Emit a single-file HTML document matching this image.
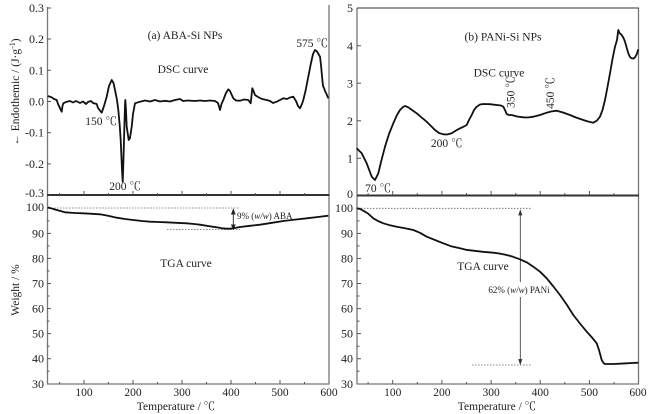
<!DOCTYPE html>
<html><head><meta charset="utf-8"><style>
html,body{margin:0;padding:0;background:#fff;}
svg{display:block;font-family:"Liberation Serif","Noto Serif CJK SC",serif;}
</style></head><body>
<svg width="656" height="414" viewBox="0 0 656 414" xmlns="http://www.w3.org/2000/svg">
<rect width="656" height="414" fill="#fff"/>

<!-- ===== LEFT PANEL ===== -->
<g fill="none" stroke="#777" stroke-width="1.3">
  <line x1="47.5" y1="7" x2="47.5" y2="384.5"/>
  <line x1="329" y1="5" x2="329" y2="384.5"/>
  <line x1="47" y1="384" x2="329.5" y2="384"/>
</g>
<line x1="47" y1="195" x2="329.5" y2="195" stroke="#333" stroke-width="2"/>
<!-- left y ticks DSC -->
<g stroke="#555" stroke-width="1">
  <line x1="47" y1="8" x2="51" y2="8"/>
  <line x1="47" y1="39" x2="51" y2="39"/>
  <line x1="47" y1="70.3" x2="51" y2="70.3"/>
  <line x1="47" y1="101.5" x2="51" y2="101.5"/>
  <line x1="47" y1="132.7" x2="51" y2="132.7"/>
  <line x1="47" y1="163.9" x2="51" y2="163.9"/>
  <!-- TGA -->
  <line x1="47" y1="208.3" x2="51" y2="208.3"/>
  <line x1="47" y1="233.4" x2="51" y2="233.4"/>
  <line x1="47" y1="258.4" x2="51" y2="258.4"/>
  <line x1="47" y1="283.5" x2="51" y2="283.5"/>
  <line x1="47" y1="308.6" x2="51" y2="308.6"/>
  <line x1="47" y1="333.6" x2="51" y2="333.6"/>
  <line x1="47" y1="358.7" x2="51" y2="358.7"/>
  <line x1="47" y1="220.9" x2="49.5" y2="220.9"/>
  <line x1="47" y1="245.9" x2="49.5" y2="245.9"/>
  <line x1="47" y1="271" x2="49.5" y2="271"/>
  <line x1="47" y1="296" x2="49.5" y2="296"/>
  <line x1="47" y1="321.1" x2="49.5" y2="321.1"/>
  <line x1="47" y1="346.2" x2="49.5" y2="346.2"/>
  <line x1="47" y1="371.2" x2="49.5" y2="371.2"/>
  <!-- x ticks bottom -->
  <line x1="84" y1="384" x2="84" y2="380"/>
  <line x1="133" y1="384" x2="133" y2="380"/>
  <line x1="182" y1="384" x2="182" y2="380"/>
  <line x1="231" y1="384" x2="231" y2="380"/>
  <line x1="280" y1="384" x2="280" y2="380"/>
  <line x1="59.5" y1="384" x2="59.5" y2="382"/>
  <line x1="108.5" y1="384" x2="108.5" y2="382"/>
  <line x1="157.5" y1="384" x2="157.5" y2="382"/>
  <line x1="206.5" y1="384" x2="206.5" y2="382"/>
  <line x1="255.5" y1="384" x2="255.5" y2="382"/>
  <line x1="304.5" y1="384" x2="304.5" y2="382"/>
  <!-- x ticks DSC bottom -->
  <line x1="84" y1="195" x2="84" y2="191"/>
  <line x1="133" y1="195" x2="133" y2="191"/>
  <line x1="182" y1="195" x2="182" y2="191"/>
  <line x1="231" y1="195" x2="231" y2="191"/>
  <line x1="280" y1="195" x2="280" y2="191"/>
  <line x1="59.5" y1="195" x2="59.5" y2="193"/>
  <line x1="108.5" y1="195" x2="108.5" y2="193"/>
  <line x1="157.5" y1="195" x2="157.5" y2="193"/>
  <line x1="206.5" y1="195" x2="206.5" y2="193"/>
  <line x1="255.5" y1="195" x2="255.5" y2="193"/>
  <line x1="304.5" y1="195" x2="304.5" y2="193"/>
</g>
<g font-size="12" fill="#222" text-anchor="end">
  <text x="44" y="12">0.3</text>
  <text x="44" y="43">0.2</text>
  <text x="44" y="74.5">0.1</text>
  <text x="44" y="105.5">0.0</text>
  <text x="44" y="136.5">-0.1</text>
  <text x="44" y="168">-0.2</text>
  <text x="44" y="197">-0.3</text>
  <text x="44" y="211">100</text>
  <text x="44" y="237.5">90</text>
  <text x="44" y="262.5">80</text>
  <text x="44" y="287.5">70</text>
  <text x="44" y="312.5">60</text>
  <text x="44" y="337.5">50</text>
  <text x="44" y="362.5">40</text>
  <text x="44" y="388">30</text>
</g>
<g font-size="11.5" fill="#222" text-anchor="middle">
  <text x="84" y="396">100</text>
  <text x="133" y="396">200</text>
  <text x="182" y="396">300</text>
  <text x="231" y="396">400</text>
  <text x="280" y="396">500</text>
  <text x="329" y="396">600</text>
  <text x="176" y="410">Temperature / ℃</text>
</g>
<text transform="translate(19,92) rotate(-90)" font-size="11.5" fill="#222" text-anchor="middle">← Endothemic / (J·g<tspan dy="-4" font-size="8">-1</tspan><tspan dy="4">)</tspan></text>
<text transform="translate(19,290) rotate(-90)" font-size="11.5" fill="#222" text-anchor="middle">Weight / %</text>

<g font-size="11.5" fill="#222" text-anchor="middle">
  <text x="185" y="39">(a) ABA-Si NPs</text>
  <text x="183" y="73">DSC curve</text>
  <text x="312" y="47">575 ℃</text>
  <text x="101" y="125">150 ℃</text>
  <text x="125" y="190">200 ℃</text>
  <text x="186" y="267">TGA curve</text>
</g>
<text x="237" y="219" font-size="9" fill="#222">9% (<tspan font-style="italic">w/w</tspan>) ABA</text>

<!-- dotted lines left -->
<g stroke="#666" stroke-width="0.8" stroke-dasharray="1.5,1.5">
  <line x1="48" y1="208" x2="240" y2="208"/>
  <line x1="167" y1="229.5" x2="240" y2="229.5"/>
</g>
<g stroke="#222" stroke-width="0.9" fill="#222">
  <line x1="233.3" y1="211" x2="233.3" y2="226.5"/>
  <path d="M231.6,214 L233.3,209.5 L235,214 Z"/>
  <path d="M231.6,225 L233.3,229 L235,225 Z"/>
</g>

<!-- DSC left curve -->
<polyline fill="none" stroke="#111" stroke-width="1.8" stroke-linejoin="round" points="
47.7,96 51.7,97.3 54,99 56.7,100 58,104 59.3,106.7 61.7,111.7 62.5,106 63.3,103.3 66.7,101.7 70,101 73,102.5 76,101 80,103 83,101.5 86,104 88,102 91,101 93,103 96.7,104 98,108 101.7,112.7 104,106 106.7,96.7 109,86 111.7,80 113.5,83 115,90 117,100 118.3,110 119.7,125 120.7,140 122,170 122.7,181.7 123.3,165 124,140 125,105 125.3,100 126,110 126.7,126.7 128.7,140 130,138 131.7,126.7 133,114 135,103.3 140,101.7 145,100.5 150,101.5 155,100 160,101.5 165,100.8 170,101.5 175,100 180,99 183,101 188,100.5 195,101 200,100.5 205,101 210,100.5 215,101 218,103 220,110 221.5,104 223.3,100 226,93 228.3,89.3 230,91 233.3,98.3 236,100.5 240,100.7 244,99.5 248.3,100 250.7,103.3 251.5,96 252.3,88.3 253.5,91 255,95 258,97 262,99 266.7,100 270,101 273,103 276.7,101.7 280,100 283.3,98.3 287,99 290,97.5 293.3,96.7 296,101 298,106 300,108.3 302,104 303.3,100 305.5,91 308.3,76.7 311,63 313,54 315,50 317,51.5 319,55 320,56.7 321,65 322,76 323,86 324,88 325,91 326.5,94 328.3,98.3
"/>

<!-- TGA left curve -->
<polyline fill="none" stroke="#111" stroke-width="1.8" stroke-linejoin="round" points="
47.7,207.3 55,209.5 65,212.3 75,213 83.3,213.3 92,213.8 100,214.3 108,215.8 116.7,217.7 125,219 133.3,220 142,221 150,221.7 158,222 166.7,222.3 176,222.8 186.7,223.3 194,224 200,224.7 208,226 216.7,227.3 222,228.3 226.7,228.7 230,228.7 233.3,228.3 236,227.8 240,227 250,225.8 260,224.7 272,222.8 283.3,221 295,219.6 306.7,218.3 318,217 328.3,215.7
"/>

<!-- ===== RIGHT PANEL ===== -->
<g fill="none" stroke="#777" stroke-width="1.3">
  <line x1="357" y1="8" x2="357" y2="384.5"/>
  <line x1="638.5" y1="8" x2="638.5" y2="384.5"/>
  <line x1="357" y1="384" x2="639" y2="384"/>
</g>
<line x1="357" y1="8" x2="639" y2="8" stroke="#333" stroke-width="1"/>
<line x1="357" y1="195.5" x2="639" y2="195.5" stroke="#333" stroke-width="2"/>
<g stroke="#555" stroke-width="1">
  <line x1="357" y1="45.8" x2="361" y2="45.8"/>
  <line x1="357" y1="83.2" x2="361" y2="83.2"/>
  <line x1="357" y1="120.8" x2="361" y2="120.8"/>
  <line x1="357" y1="158.3" x2="361" y2="158.3"/>
  <line x1="357" y1="208.3" x2="361" y2="208.3"/>
  <line x1="357" y1="233.4" x2="361" y2="233.4"/>
  <line x1="357" y1="258.4" x2="361" y2="258.4"/>
  <line x1="357" y1="283.5" x2="361" y2="283.5"/>
  <line x1="357" y1="308.6" x2="361" y2="308.6"/>
  <line x1="357" y1="333.6" x2="361" y2="333.6"/>
  <line x1="357" y1="358.7" x2="361" y2="358.7"/>
  <line x1="357" y1="220.9" x2="359.5" y2="220.9"/>
  <line x1="357" y1="245.9" x2="359.5" y2="245.9"/>
  <line x1="357" y1="271" x2="359.5" y2="271"/>
  <line x1="357" y1="296" x2="359.5" y2="296"/>
  <line x1="357" y1="321.1" x2="359.5" y2="321.1"/>
  <line x1="357" y1="346.2" x2="359.5" y2="346.2"/>
  <line x1="357" y1="371.2" x2="359.5" y2="371.2"/>
  <line x1="392.7" y1="384" x2="392.7" y2="380"/>
  <line x1="441.9" y1="384" x2="441.9" y2="380"/>
  <line x1="491.1" y1="384" x2="491.1" y2="380"/>
  <line x1="540.2" y1="384" x2="540.2" y2="380"/>
  <line x1="589.4" y1="384" x2="589.4" y2="380"/>
  <line x1="368.1" y1="384" x2="368.1" y2="382"/>
  <line x1="417.3" y1="384" x2="417.3" y2="382"/>
  <line x1="466.5" y1="384" x2="466.5" y2="382"/>
  <line x1="515.7" y1="384" x2="515.7" y2="382"/>
  <line x1="564.8" y1="384" x2="564.8" y2="382"/>
  <line x1="614" y1="384" x2="614" y2="382"/>
  <line x1="392.7" y1="195" x2="392.7" y2="191"/>
  <line x1="441.9" y1="195" x2="441.9" y2="191"/>
  <line x1="491.1" y1="195" x2="491.1" y2="191"/>
  <line x1="540.2" y1="195" x2="540.2" y2="191"/>
  <line x1="589.4" y1="195" x2="589.4" y2="191"/>
  <line x1="368.1" y1="195" x2="368.1" y2="193"/>
  <line x1="417.3" y1="195" x2="417.3" y2="193"/>
  <line x1="466.5" y1="195" x2="466.5" y2="193"/>
  <line x1="515.7" y1="195" x2="515.7" y2="193"/>
  <line x1="564.8" y1="195" x2="564.8" y2="193"/>
  <line x1="614" y1="195" x2="614" y2="193"/>
</g>
<g font-size="12" fill="#222" text-anchor="end">
  <text x="353" y="12">5</text>
  <text x="353" y="50">4</text>
  <text x="353" y="87.5">3</text>
  <text x="353" y="125">2</text>
  <text x="353" y="162.5">1</text>
  <text x="353" y="198">0</text>
  <text x="353" y="212">100</text>
  <text x="353" y="237.5">90</text>
  <text x="353" y="262.5">80</text>
  <text x="353" y="287.5">70</text>
  <text x="353" y="312.5">60</text>
  <text x="353" y="337.5">50</text>
  <text x="353" y="362.5">40</text>
  <text x="353" y="388">30</text>
</g>
<g font-size="11.5" fill="#222" text-anchor="middle">
  <text x="392.7" y="396">100</text>
  <text x="441.9" y="396">200</text>
  <text x="491.1" y="396">300</text>
  <text x="540.2" y="396">400</text>
  <text x="589.4" y="396">500</text>
  <text x="638" y="396">600</text>
  <text x="497" y="410">Temperature / ℃</text>
  <text x="503" y="40.5">(b) PANi-Si NPs</text>
  <text x="499" y="76.5">DSC curve</text>
  <text x="446.7" y="147">200 ℃</text>
  <text x="378" y="192">70 ℃</text>
  <text x="483" y="270">TGA curve</text>
</g>
<text transform="translate(514.5,92) rotate(-90)" font-size="11.5" fill="#222" text-anchor="middle">350 ℃</text>
<text transform="translate(554,93) rotate(-90)" font-size="11.5" fill="#222" text-anchor="middle">450 ℃</text>

<g stroke="#666" stroke-width="0.8" stroke-dasharray="1.5,1.5">
  <line x1="358" y1="208.3" x2="531" y2="208.3"/>
  <line x1="472" y1="365" x2="531" y2="365"/>
</g>
<g stroke="#333" stroke-width="0.8" fill="#333">
  <line x1="520.3" y1="212" x2="520.3" y2="282"/>
  <line x1="520.3" y1="297" x2="520.3" y2="362"/>
  <path d="M518.8,215 L520.3,210.5 L521.8,215 Z"/>
  <path d="M518.8,359.5 L520.3,364 L521.8,359.5 Z"/>
</g>
<text x="519" y="293" font-size="9" fill="#222" text-anchor="middle">62% (<tspan font-style="italic">w/w</tspan>) PANi</text>

<!-- DSC right curve -->
<polyline fill="none" stroke="#111" stroke-width="1.8" stroke-linejoin="round" points="
356.7,148.3 361.7,153.3 366.7,163.3 371.7,176.7 375,180 378.3,173.3 381,162 385,146.7 389,134 393.3,123.3 397,115 400,110 403,107 405,106 408.3,107.3 412,110 416.7,113.3 421,117 426.7,121.7 431,126 435,130 439,133 443.3,134.3 447,134.5 451.7,133.3 456,130.5 460,128.3 463,127 466.7,125 469,120 471.7,115 474,110 476.7,106.7 480,104.5 483.3,104 490,104.2 496.7,105 501,105.5 503.3,106.7 505,110 506.7,114 509,115 511.7,115 517,116.5 523.3,117.3 528,117.5 533.3,116.7 540,115 546.7,112.7 551,111.5 556.7,110.7 563,112.5 570,115 576,117.5 583.3,120 588,121.5 593.3,122.7 597,120.5 600,116.7 602.5,110 605,100 607.5,87 610,73.3 612.5,59 615,46.7 617,40 618.3,30 619.5,33 621.7,35 623.5,38 625,41.7 626.5,47 628.3,53.3 630,57 631.7,58.3 633.5,58.5 635,57.3 636.8,54 638.3,49.3
"/>

<!-- TGA right curve -->
<polyline fill="none" stroke="#111" stroke-width="1.8" stroke-linejoin="round" points="
356.7,208.3 360,209 363.3,210.7 368,213.5 373.3,218.3 378,221 383.3,223.3 390,225.3 396.7,226.7 405,228.3 413.3,230 420,232.8 426.7,236.7 435,240 443.3,243.3 451,246.2 460,248.3 466,249.8 473.3,250.7 483,251.8 493.3,252.7 500,253.6 506.7,255 513,256.8 520,259.3 527,262.5 533.3,266.7 540,271.7 546.7,278.3 553,286 560,295 567,305 573.3,315 580,323.5 586.7,331.7 592,337.5 596.7,343.3 599,350 601.7,360 603.5,363 605,364 613.3,364 620,363.7 626.7,363.3 632,363 638.3,362.7
"/>
</svg>
</body></html>
